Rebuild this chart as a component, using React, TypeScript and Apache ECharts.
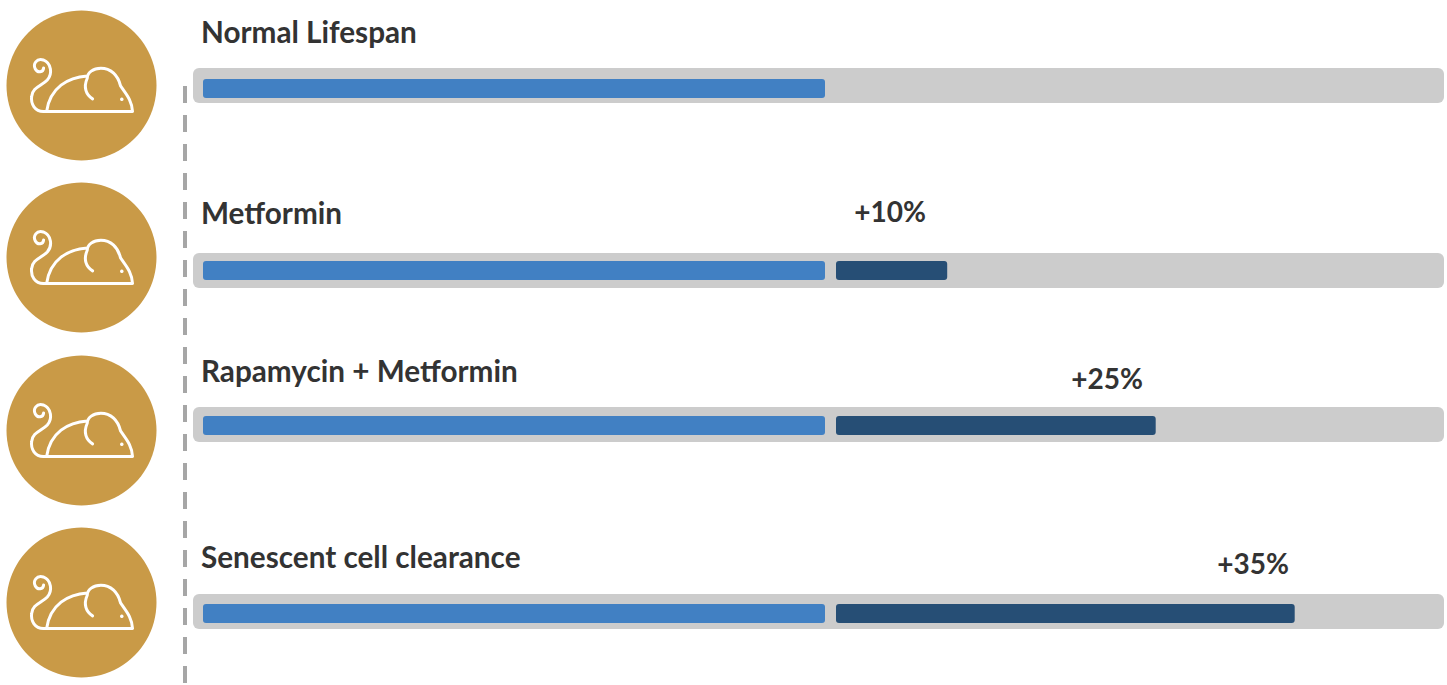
import React, { useEffect, useRef } from "react";
import * as echarts from "echarts";

// Treatments, one row each.
const treatments = ["Normal Lifespan", "Metformin", "Rapamycin + Metformin", "Senescent cell clearance"];
const baseLifespan = [100, 100, 100, 100];
const extension = [0, 10, 25, 35];
const extensionLabels = ["", "+10%", "+25%", "+35%"];

// Row geometry in page pixels.
const CANVAS_W = 1447;
const CANVAS_H = 685;
const TRACK_LEFT = 193;
const TRACK_RIGHT = 1444;
const TRACK_H = 35;
const BAR_H = 19;
const trackTops = [68, 253, 407, 594];
const barTops = [79, 261, 416, 604];
const circleCentersY = [85.5, 257.5, 430.5, 602.5];
const titleCentersY = [31, 212, 370, 556];
const percentCenters = [[0, 0], [890, 211], [1107, 378], [1253, 563]];

// Scale of the base bars: 0 sits at x=203, 100 at x=825.
const BASE_ZERO_X = 203;
const BASE_PX_PER_UNIT = 6.22;
// Scale of the extension bars, which start at x=836 on a truncated axis.
const EXT_ORIGIN = 2;
const EXT_ORIGIN_X = 836;
const EXT_PX_PER_UNIT = 13.9;

const COLORS = {
  track: "#CCCCCC",
  base: "#4180C3",
  ext: "#264E75",
  gold: "#C99A47",
  dash: "#A6A6A6",
  text: "#333333",
};
const FONT = "Lato, 'Open Sans', sans-serif";

// Mouse outline, drawn in a 3x coordinate space around the first badge.
const MOUSE_PATH =
  "M130 335 L398 335 C396 300 378 282 362 258 C354 225 332 205 303 205 C280 205 262 218 262 235 " +
  "C250 262 258 285 278 297 M262 228 C205 232 150 262 140 335 M130 335 C105 335 92 312 95 290 " +
  "C97 262 125 258 142 240 C158 222 155 190 130 180 C110 174 98 192 106 207 C113 220 130 218 131 204";
echarts.graphic.registerShape("mouseOutline", echarts.graphic.extendPath(MOUSE_PATH, {}));

const xRange = (zeroX: number, pxPerUnit: number, zeroValue: number) => ({
  min: zeroValue + (TRACK_LEFT - zeroX) / pxPerUnit,
  max: zeroValue + (TRACK_RIGHT - zeroX) / pxPerUnit,
});

const barRenderer = (row: number, start: number, fill: string) => (_p: any, api: any) => {
  const x0 = api.coord([start, 0])[0];
  const x1 = api.coord([api.value(0), 0])[0];
  return {
    type: "rect",
    shape: { x: x0, y: barTops[row], width: x1 - x0, height: BAR_H, r: 3 },
    style: { fill },
  };
};

const trackRenderer = (params: any) => {
  const c = params.coordSys;
  return {
    type: "rect",
    shape: { x: c.x, y: c.y, width: c.width, height: c.height, r: 6 },
    style: { fill: COLORS.track },
  };
};

function buildOption() {
  const grid: any[] = [];
  const xAxis: any[] = [];
  const yAxis: any[] = [];
  const series: any[] = [];
  const graphic: any[] = [];

  graphic.push({
    type: "line",
    shape: { x1: 185, y1: 86, x2: 185, y2: CANVAS_H },
    style: { stroke: COLORS.dash, lineWidth: 4, lineDash: [17, 12] },
  });

  treatments.forEach((name, row) => {
    grid.push({ left: TRACK_LEFT, width: TRACK_RIGHT - TRACK_LEFT, top: trackTops[row], height: TRACK_H });
    xAxis.push({ type: "value", gridIndex: row, show: false, ...xRange(BASE_ZERO_X, BASE_PX_PER_UNIT, 0) });
    xAxis.push({ type: "value", gridIndex: row, show: false, ...xRange(EXT_ORIGIN_X, EXT_PX_PER_UNIT, EXT_ORIGIN) });
    yAxis.push({ type: "category", gridIndex: row, show: false, data: [name] });

    const common = { type: "custom", yAxisIndex: row, silent: true, clip: false, encode: { x: 0 } };
    series.push({ ...common, xAxisIndex: row * 2, z: 2, data: [[1]], renderItem: trackRenderer });
    series.push({
      ...common,
      name,
      xAxisIndex: row * 2,
      z: 3,
      data: [[baseLifespan[row]]],
      renderItem: barRenderer(row, 0, COLORS.base),
    });
    if (extension[row] > 0) {
      series.push({
        ...common,
        name: extensionLabels[row],
        xAxisIndex: row * 2 + 1,
        z: 3,
        data: [[extension[row]]],
        renderItem: barRenderer(row, EXT_ORIGIN, COLORS.ext),
      });
    }

    // Gold badge with the mouse glyph.
    const cy = circleCentersY[row];
    graphic.push({ type: "circle", shape: { cx: 81.5, cy, r: 75 }, style: { fill: COLORS.gold } });
    graphic.push({
      type: "mouseOutline",
      x: 0,
      y: cy - 85.5,
      scaleX: 1 / 3,
      scaleY: 1 / 3,
      style: { fill: "none", stroke: "#FFFFFF", lineWidth: 9, lineCap: "round", lineJoin: "round" },
    });
    graphic.push({ type: "circle", shape: { cx: 121.8, cy: cy + 13.7, r: 1.8 }, style: { fill: "#FFFFFF" } });

    graphic.push({
      type: "text",
      x: 201,
      y: titleCentersY[row],
      style: {
        text: name,
        fill: COLORS.text,
        font: `700 29.7px ${FONT}`,
        textAlign: "left",
        textVerticalAlign: "middle",
      },
    });
    if (extensionLabels[row]) {
      graphic.push({
        type: "text",
        x: percentCenters[row][0],
        y: percentCenters[row][1],
        style: {
          text: extensionLabels[row],
          fill: COLORS.text,
          font: `700 28px ${FONT}`,
          textAlign: "center",
          textVerticalAlign: "middle",
        },
      });
    }
  });

  return { animation: false, backgroundColor: "#FFFFFF", tooltip: { show: false }, grid, xAxis, yAxis, series, graphic };
}

export default function App() {
  const ref = useRef<HTMLDivElement>(null);
  useEffect(() => {
    const chart = echarts.init(ref.current!, null, { renderer: "svg" });
    chart.setOption(buildOption() as any);
    return () => chart.dispose();
  }, []);
  return <div ref={ref} style={{ position: "absolute", left: 0, top: 0, width: CANVAS_W, height: CANVAS_H }} />;
}
